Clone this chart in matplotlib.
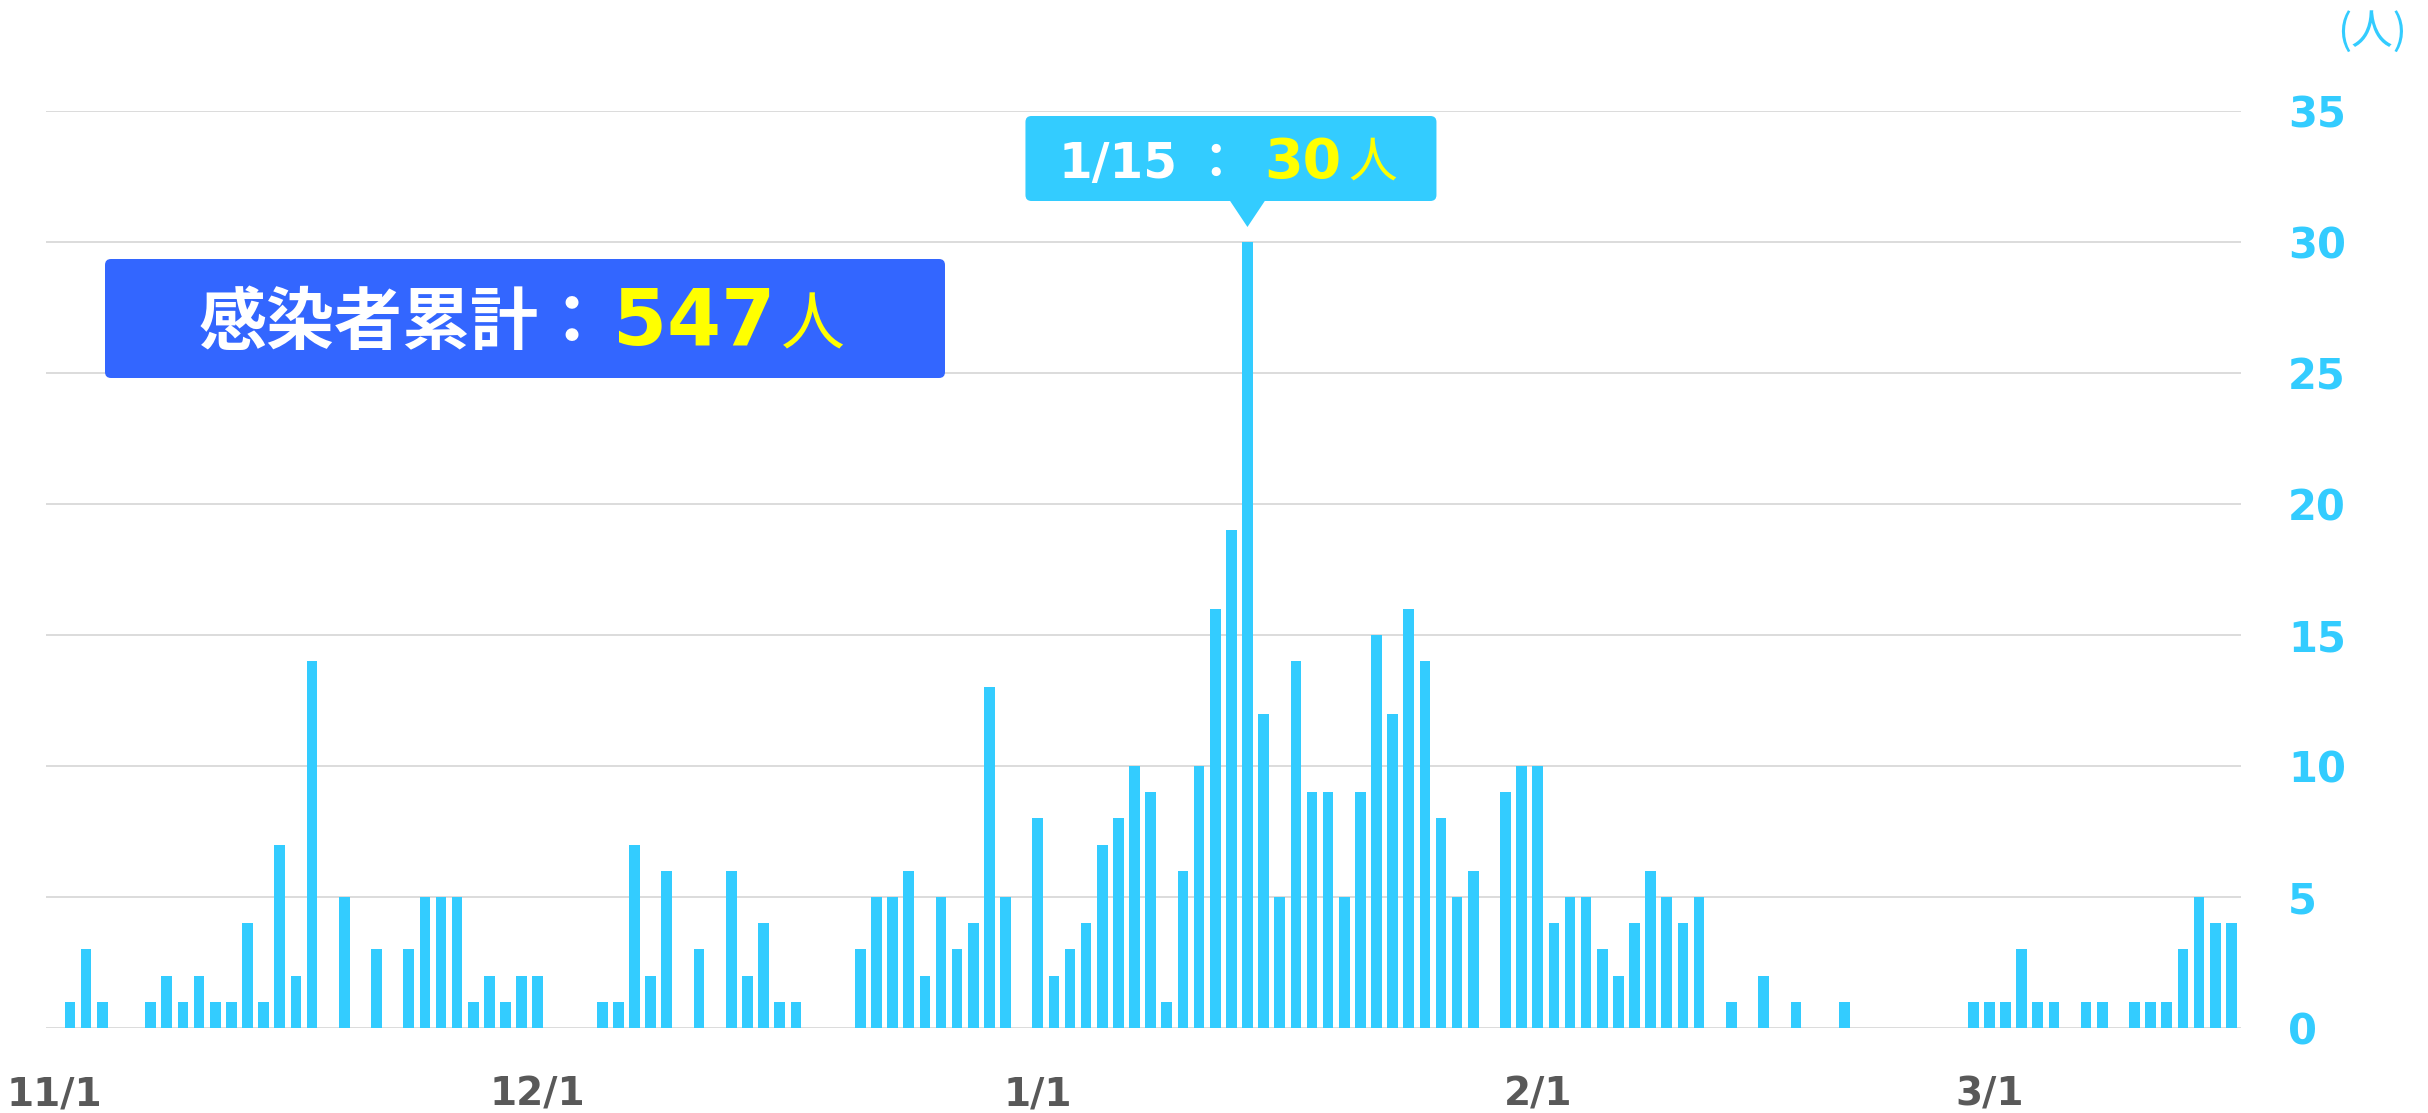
import numpy as np
import pandas as pd
import matplotlib
matplotlib.use("Agg")
import matplotlib.pyplot as plt
import matplotlib.dates as mdates
from matplotlib.patches import FancyBboxPatch, Polygon
from matplotlib.transforms import IdentityTransform

# daily new infections (first bar = 11/2)
start_date = "2020-11-02"
counts = [1, 3, 1, 0, 0, 1, 2, 1, 2, 1, 1, 4, 1, 7, 2, 14, 0, 5, 0, 3, 0, 3,
          5, 5, 5, 1, 2, 1, 2, 2, 0, 0, 0, 1, 1, 7, 2, 6, 0, 3, 0, 6, 2, 4, 1, 1,
          0, 0, 0,
          3, 5, 5, 6, 2, 5, 3, 4, 13, 5, 0, 8, 2, 3, 4, 7, 8, 10, 9, 1, 6, 10, 16,
          19, 30, 12, 5, 14, 9, 9, 5, 9, 15, 12, 16, 14, 8, 5, 6, 0, 9, 10, 10,
          4, 5, 5, 3, 2,
          4, 6, 5, 4, 5, 0, 1, 0, 2, 0, 1, 0, 0, 1,
          0, 0, 0, 0, 0, 0, 0,
          1, 1, 1, 3, 1, 1, 0, 1, 1, 0, 1, 1, 1, 3, 5, 4, 4]
tick_dates = ["2020-11-01", "2020-12-01", "2021-01-01", "2021-02-01", "2021-03-01"]
tick_labels = ["11/1", "12/1", "1/1", "2/1", "3/1"]
y_ticks = [0, 5, 10, 15, 20, 25, 30, 35]
total = 547
peak_label = "1/15"

BAR = "#33CCFF"
CJK = ["Noto Sans CJK JP", "DejaVu Sans"]

dates = pd.date_range(start_date, periods=len(counts))

fig = plt.figure(figsize=(24.28, 11.13), dpi=100)
ax = fig.add_axes([46 / 2428, 85 / 1113, 2195 / 2428, 917 / 1113])

ax.bar(dates, counts, width=0.66, color=BAR, zorder=2)

ax.set_ylim(0, 35)
ax.set_xlim(dates[0] - pd.Timedelta(days=1.49), dates[0] + pd.Timedelta(days=134.6))
ax.set_yticks(y_ticks)
ax.yaxis.tick_right()
ax.grid(axis="y", color="#D9D9D9", linewidth=1.3, zorder=0)
ax.set_axisbelow(True)
ax.set_xticks(pd.to_datetime(tick_dates))
ax.set_xticklabels(tick_labels)
for s in ax.spines.values():
    s.set_visible(False)
ax.tick_params(axis="x", length=0, pad=34, labelsize=28, labelcolor="#595959")
ax.tick_params(axis="y", length=0, pad=34, labelsize=30, labelcolor=BAR)
for t in ax.get_xticklabels() + ax.get_yticklabels():
    t.set_fontweight("bold")

px_tr = IdentityTransform()

# unit label
fig.text(2372, 1081, "(人)", transform=px_tr, ha="center", va="center",
         fontsize=30, color=BAR, family=CJK)

# total box
fig.add_artist(FancyBboxPatch((105, 735), 840, 119,
                              boxstyle="round,pad=0,rounding_size=6",
                              fc="#3366FF", ec="none", transform=px_tr))
fig.text(199, 769, "感染者累計：", transform=px_tr, fontsize=49, color="white",
         family=CJK, weight="bold", va="baseline")
fig.text(613, 768, str(total), transform=px_tr, fontsize=56, color="#FFFF00",
         weight="bold", va="baseline")
fig.text(781, 769, "人", transform=px_tr, fontsize=46, color="#FFFF00",
         family=CJK, va="baseline")

# peak callout
ipk = int(np.argmax(counts))
px, py = ax.transData.transform((mdates.date2num(dates[ipk].to_pydatetime()), counts[ipk]))
fig.add_artist(FancyBboxPatch((px - 222, py + 41), 411, 85,
                              boxstyle="round,pad=0,rounding_size=6",
                              fc=BAR, ec="none", transform=px_tr))
fig.add_artist(Polygon([(px - 18, py + 42), (px + 18, py + 42), (px, py + 15)],
                       closed=True, fc=BAR, ec="none", transform=px_tr))
fig.text(px - 189, py + 64, peak_label, transform=px_tr, fontsize=35,
         color="white", weight="bold", va="baseline")
fig.text(px - 32, py + 64, "：", transform=px_tr, fontsize=35, color="white",
         family=CJK, weight="bold", va="baseline", ha="center")
fig.text(px + 17, py + 64, str(counts[ipk]), transform=px_tr, fontsize=40,
         color="#FFFF00", weight="bold", va="baseline")
fig.text(px + 101, py + 65, "人", transform=px_tr, fontsize=35, color="#FFFF00",
         family=CJK, va="baseline")

fig.savefig("out.png", dpi=100)
